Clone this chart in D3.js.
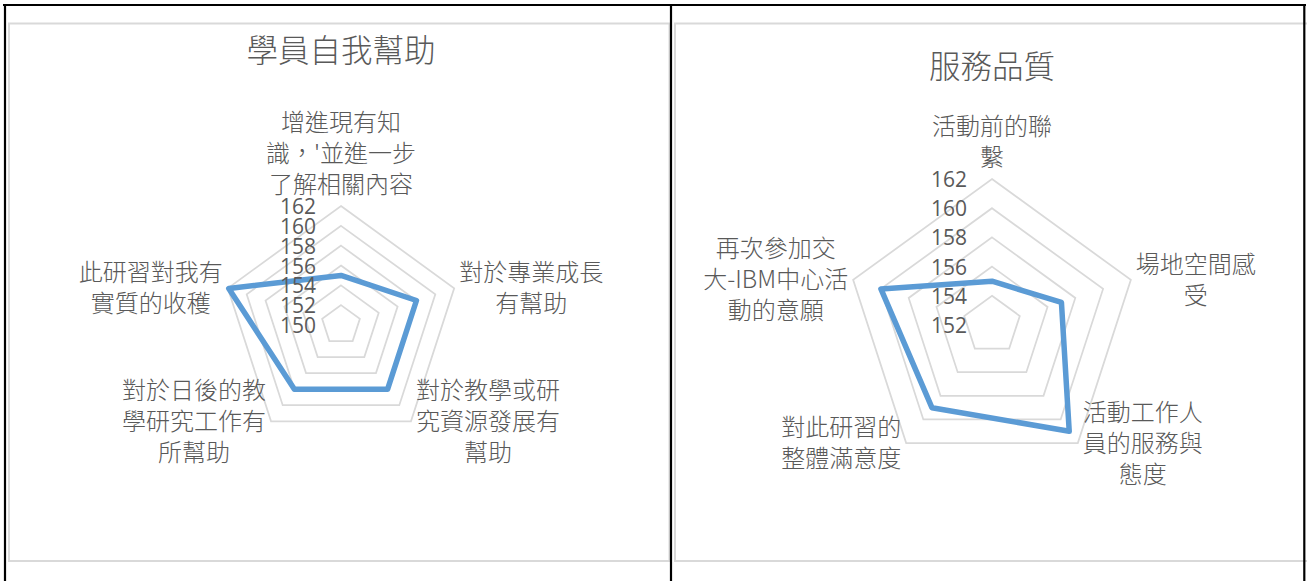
<!DOCTYPE html>
<html>
<head>
<meta charset="utf-8">
<script src="https://cdn.jsdelivr.net/npm/d3@7"></script>
<style>
    body { margin: 0; background: #fff; }
    svg { display: block; }
</style>
</head>
<body>
<svg width="1307" height="581"></svg>
<script>
// ---- Data: chart 1 (學員自我幫助) ----
const helpTitle = '學員自我幫助';
const helpCategories = [
    '增進現有知\n識，\'並進一步\n了解相關內容',
    '對於專業成長\n有幫助',
    '對於教學或研\n究資源發展有\n幫助',
    '對於日後的教\n學研究工作有\n所幫助',
    '此研習對我有\n實質的收穫'
];
const helpValues = [155, 158, 158, 158, 161.9];
const helpTicks = [150, 152, 154, 156, 158, 160, 162];

// ---- Data: chart 2 (服務品質) ----
const serviceTitle = '服務品質';
const serviceCategories = [
    '活動前的聯\n繫',
    '場地空間感\n受',
    '活動工作人\n員的服務與\n態度',
    '對此研習的\n整體滿意度',
    '再次參加交\n大-IBM中心活\n動的意願'
];
const serviceValues = [155, 157, 161, 159, 160];
const serviceTicks = [152, 154, 156, 158, 160, 162];

const TEXT_COLOR = '#595959';
const CJK_FONT = '"Noto Sans CJK TC", "Noto Sans CJK SC", sans-serif';
const NUM_FONT = '"Open Sans", "Noto Sans", sans-serif';

class RadarPlot {
    constructor(svg, cfg) {
        this.svg = svg;
        this.title = cfg.title;
        this.categories = cfg.categories;
        this.values = cfg.values;
        this.ticks = cfg.ticks;
        this.cx = cfg.cx; // centre of the web
        this.cy = cfg.cy;
        this.radius = cfg.radius; // radius of the outer ring
        this.titleY = cfg.titleY;
        this.frame = cfg.frame; // [x0, y0, x1, y1] light grey chart border
        this.lineHeight = 31;
    }

    draw = () => {
        this.setScales();
        this.drawFrame();
        this.container = this.svg.append('g')
            .attr('transform', `translate(${this.cx},${this.cy})`);
        this.drawGrid();
        this.drawSeries();
        this.drawTicks();
        this.drawCategories();
        this.drawTitle();
    }

    setScales = () => {
        // value -> distance from centre
        this.rScale = d3.scaleLinear()
            .domain(d3.extent(this.ticks))
            .range([0, this.radius]);
        // category index -> angle, 0 at 12 o'clock, clockwise
        this.aScale = d3.scaleLinear()
            .domain([0, this.categories.length])
            .range([0, 2 * Math.PI]);
    }

    drawFrame = () => {
        const [x0, y0, x1, y1] = this.frame;
        this.svg.append('rect')
            .attr('x', x0).attr('y', y0)
            .attr('width', x1 - x0).attr('height', y1 - y0)
            .attr('fill', '#fff')
            .attr('stroke', '#d9d9d9')
            .attr('stroke-width', 2);
    }

    drawGrid = () => {
        const ring = d3.lineRadial()
            .angle((d, i) => this.aScale(i))
            .radius(d => this.rScale(d))
            .curve(d3.curveLinearClosed);
        // one pentagon per tick, skipping the centre value
        this.container.append('g')
            .selectAll('path')
            .data(this.ticks.slice(1))
            .join('path')
            .attr('d', t => ring(this.categories.map(() => t)))
            .attr('fill', 'none')
            .attr('stroke', '#d9d9d9')
            .attr('stroke-width', 1.75);
    }

    drawSeries = () => {
        const line = d3.lineRadial()
            .angle((d, i) => this.aScale(i))
            .radius(d => this.rScale(d))
            .curve(d3.curveLinearClosed);
        this.container.append('path')
            .attr('d', line(this.values))
            .attr('fill', 'none')
            .attr('stroke', '#5b9bd5')
            .attr('stroke-width', 5.5)
            .attr('stroke-linejoin', 'round');
    }

    drawTicks = () => {
        this.container.append('g')
            .selectAll('text')
            .data(this.ticks)
            .join('text')
            .attr('x', -25)
            .attr('y', d => -this.rScale(d))
            .attr('text-anchor', 'end')
            .attr('dominant-baseline', 'central')
            .style('font-family', NUM_FONT)
            .style('font-size', '21px')
            .style('fill', TEXT_COLOR)
            .text(d => d);
    }

    drawCategories = () => {
        const R = this.radius;
        const lh = this.lineHeight;
        this.categories.forEach((label, i) => {
            const a = this.aScale(i);
            const vx = R * Math.sin(a);
            const vy = -R * Math.cos(a);
            const lines = label.split('\n');
            const g = this.container.append('g');
            const texts = lines.map((ln, k) => g.append('text')
                .attr('y', k * lh)
                .attr('text-anchor', 'middle')
                .attr('dominant-baseline', 'central')
                .style('font-family', CJK_FONT)
                .style('font-weight', 300)
                .style('font-size', '24px')
                .style('fill', TEXT_COLOR)
                .text(ln));
            const w = d3.max(texts, t => t.node().getComputedTextLength());
            let tx, ty;
            if (Math.abs(Math.sin(a)) < 0.1) {
                // top label sits above the vertex
                tx = vx;
                ty = vy - 23.5 - (lines.length - 1) * lh;
            } else {
                // side labels are centred on the vertex height
                tx = Math.sin(a) > 0 ? vx + 5 + w / 2 : vx - 5 - w / 2;
                ty = vy - 2 - (lines.length - 1) * lh / 2;
            }
            g.attr('transform', `translate(${tx},${ty})`);
        });
    }

    drawTitle = () => {
        this.svg.append('text')
            .attr('x', this.cx)
            .attr('y', this.titleY)
            .attr('text-anchor', 'middle')
            .attr('dominant-baseline', 'central')
            .style('font-family', CJK_FONT)
            .style('font-weight', 300)
            .style('font-size', '31.5px')
            .style('fill', TEXT_COLOR)
            .text(this.title);
    }
}

const svg = d3.select('svg');

new RadarPlot(svg, {
    title: helpTitle, categories: helpCategories, values: helpValues, ticks: helpTicks,
    cx: 341, cy: 325, radius: 119, titleY: 48, frame: [9, 23.5, 669.5, 561]
}).draw();

new RadarPlot(svg, {
    title: serviceTitle, categories: serviceCategories, values: serviceValues, ticks: serviceTicks,
    cx: 992, cy: 325, radius: 146, titleY: 64, frame: [675, 23.5, 1310, 561]
}).draw();

// Table borders round the two charts
const borders = svg.append('g')
    .attr('stroke', '#000')
    .attr('stroke-width', 2.2);
borders.append('line').attr('x1', 3).attr('x2', 1306).attr('y1', 5).attr('y2', 5);
[5, 671, 1304.3].forEach(x => {
    borders.append('line').attr('x1', x).attr('x2', x).attr('y1', 4).attr('y2', 581);
});
</script>
</body>
</html>
